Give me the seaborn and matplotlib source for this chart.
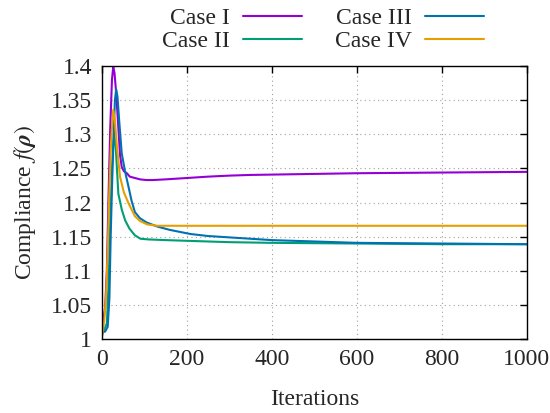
import pandas as pd
import matplotlib
matplotlib.use("Agg")
import matplotlib.pyplot as plt
from matplotlib.ticker import FuncFormatter
import seaborn as sns

# Valores (iteracion, compliance)
iter_caso1 = [0, 3, 8, 12, 16, 20, 24, 27, 30, 34, 39, 43, 47, 52, 59, 66, 78, 90,
              105, 120, 150, 200, 250, 300, 350, 400, 500, 600, 800, 1000]
val_caso1 = [1.02, 1.025, 1.047, 1.10, 1.21, 1.31, 1.38, 1.399, 1.39, 1.36, 1.31, 1.27,
             1.252, 1.246, 1.243, 1.238, 1.236, 1.234, 1.233, 1.233, 1.234, 1.236, 1.238,
             1.2395, 1.2405, 1.241, 1.242, 1.243, 1.244, 1.245]

iter_caso2 = [0, 4, 12, 16, 20, 24, 29, 33, 39, 47, 55, 65, 78, 91, 110, 150, 200,
              300, 400, 600, 800, 1000]
val_caso2 = [1.005, 1.011, 1.023, 1.08, 1.17, 1.25, 1.304, 1.28, 1.213, 1.19, 1.174,
             1.162, 1.152, 1.147, 1.146, 1.145, 1.144, 1.142, 1.141, 1.140, 1.139, 1.139]

iter_caso3 = [0, 8, 14, 18, 21, 24, 28, 31, 34, 37, 41, 47, 55, 63, 70, 78, 90, 105,
              130, 160, 208, 250, 300, 400, 500, 600, 800, 1000]
val_caso3 = [1.01, 1.011, 1.018, 1.06, 1.15, 1.22, 1.30, 1.35, 1.366, 1.355, 1.32, 1.272,
             1.245, 1.223, 1.203, 1.186, 1.177, 1.171, 1.165, 1.160, 1.154, 1.151, 1.149,
             1.145, 1.143, 1.141, 1.140, 1.139]

iter_caso4 = [0, 6, 10, 14, 18, 22, 27, 31, 36, 43, 52, 63, 78, 90, 107, 130, 160,
              200, 400, 600, 800, 1000]
val_caso4 = [1.0, 1.028, 1.06, 1.13, 1.22, 1.29, 1.336, 1.32, 1.28, 1.238, 1.215, 1.199,
             1.180, 1.173, 1.168, 1.166, 1.166, 1.166, 1.166, 1.166, 1.166, 1.166]

casos = ["Case I", "Case II", "Case III", "Case IV"]
colores = ["#9400d3", "#009e73", "#0072b2", "#e69f00"]

xticks = [0, 200, 400, 600, 800, 1000]
yticks = [1, 1.05, 1.1, 1.15, 1.2, 1.25, 1.3, 1.35, 1.4]

# Tabla larga para seaborn
series = [(iter_caso1, val_caso1), (iter_caso2, val_caso2),
          (iter_caso3, val_caso3), (iter_caso4, val_caso4)]
filas = []
for caso, (its, vals) in zip(casos, series):
    for i, v in zip(its, vals):
        filas.append({"Iterations": i, "Compliance": v, "Caso": caso})
df = pd.DataFrame(filas)

sns.set_style("white")
plt.rcParams["font.family"] = ["Liberation Serif", "DejaVu Serif"]
plt.rcParams["mathtext.fontset"] = "stix"

fs = 17

fig = plt.figure(figsize=(5.5, 4.13), dpi=100)
ax = fig.add_axes([0.185, 0.179, 0.773, 0.661])

sns.lineplot(data=df, x="Iterations", y="Compliance", hue="Caso",
             hue_order=casos, palette=colores, linewidth=1.5,
             estimator=None, sort=False, ax=ax, legend=False)

ax.set_xlim(0, 1000)
ax.set_ylim(1, 1.4)
ax.set_xticks(xticks)
ax.set_yticks(yticks)
ax.yaxis.set_major_formatter(FuncFormatter(lambda v, p: "%g" % v))
ax.grid(True, color="#a0a0a0", linestyle=(0, (1, 3)), linewidth=0.8)
ax.tick_params(direction="in", top=True, right=True, length=5, width=1,
               labelsize=fs, pad=7, color="black")
for s in ax.spines.values():
    s.set_color("black")
    s.set_linewidth(1)

ax.set_xlabel("Iterations", fontsize=fs, labelpad=14)
ax.set_ylabel(r"Compliance $f(\boldsymbol{\rho})$", fontsize=fs, labelpad=9)

# Leyenda estilo gnuplot arriba
handles = ax.get_lines()[:4]
fig.legend(handles, casos, loc="upper center", bbox_to_anchor=(0.588, 1.033),
           ncol=2, frameon=False, markerfirst=False, fontsize=fs,
           handlelength=2.5, handletextpad=0.55, columnspacing=1.4,
           labelspacing=0.05)

fig.savefig("out.png", dpi=100)
